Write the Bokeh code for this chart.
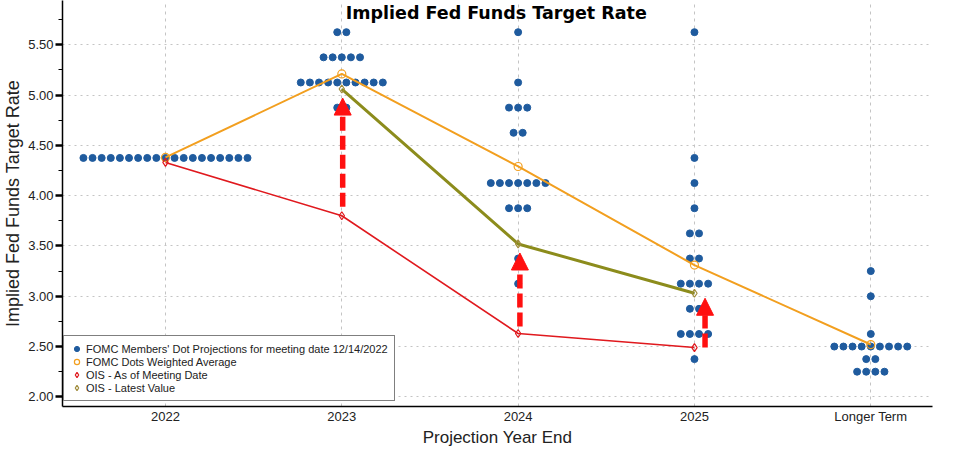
from bokeh.plotting import figure
from bokeh.models import (Range1d, FixedTicker, Legend, LegendItem, Arrow, NormalHead,
                          ColumnDataSource, Label, NumeralTickFormatter)
from bokeh.embed import file_html
from bokeh.resources import INLINE

# ---------------- data ----------------
categories = ["2022", "2023", "2024", "2025", "Longer Term"]
cat_pos = [0, 1, 2, 3, 4]

# FOMC dot plot (12/14/2022): category index, rate, number of participants at that rate
dot_cat = [0,
           1, 1, 1, 1,
           2, 2, 2, 2, 2, 2, 2, 2,
           3, 3, 3, 3, 3, 3, 3, 3, 3, 3,
           4, 4, 4, 4, 4, 4]
dot_rate = [4.375,
            5.625, 5.375, 5.125, 4.875,
            5.625, 5.125, 4.875, 4.625, 4.125, 3.875, 3.375, 3.125,
            5.625, 4.375, 4.125, 3.875, 3.625, 3.375, 3.125, 2.875, 2.625, 2.375,
            3.25, 3.0, 2.625, 2.5, 2.375, 2.25]
dot_count = [19,
             2, 5, 10, 2,
             1, 1, 3, 2, 7, 3, 1, 1,
             1, 1, 1, 1, 2, 2, 4, 2, 4, 1,
             1, 1, 1, 9, 2, 4]

# FOMC dots weighted average
wavg_x = [0, 1, 2, 3, 4]
wavg = [4.38, 5.21, 4.29, 3.31, 2.52]

# OIS - as of meeting date
ois_meet_x = [0, 1, 2, 3]
ois_meet = [4.33, 3.80, 2.63, 2.49]

# OIS - latest value
ois_last_x = [1, 2, 3]
ois_last = [5.06, 3.52, 3.03]

# red arrows (from meeting-date OIS up to latest OIS)
arrow_x = [1.005, 2.01, 3.06]
arrow_from = [3.89, 2.70, 2.49]
arrow_to = [4.97, 3.43, 2.98]

y_ticks = [2.0, 2.5, 3.0, 3.5, 4.0, 4.5, 5.0, 5.5]
y_minor = [1.75, 2.0, 2.25, 2.5, 2.75, 3.0, 3.25, 3.5, 3.75, 4.0, 4.25, 4.5,
           4.75, 5.0, 5.25, 5.5, 5.75]

# ---------------- styles ----------------
BLUE = "#1f5b9e"
ORANGE = "#f29f1f"
RED = "#e0191e"
OLIVE = "#8c8c1c"
ARROW_RED = "#ff1010"
FONT = "Liberation Sans"
DOT_STEP = 0.0517

dx, dy = [], []
for c, r, n in zip(dot_cat, dot_rate, dot_count):
    for i in range(n):
        dx.append(c + (i - (n - 1) / 2) * DOT_STEP)
        dy.append(r)

p = figure(width=939, height=449, output_backend="svg", toolbar_location=None,
           x_range=Range1d(-0.584, 4.35), y_range=Range1d(1.904, 5.94),
           min_border_top=0, min_border_right=7, min_border_left=10, min_border_bottom=0)
p.outline_line_color = None
p.background_fill_color = "white"

# grids
p.xgrid.ticker = FixedTicker(ticks=cat_pos)
p.xgrid.grid_line_color = "#c4c4c4"
p.xgrid.grid_line_dash = "3 4"
p.ygrid.ticker = FixedTicker(ticks=y_ticks)
p.ygrid.grid_line_color = "#c4c4c4"
p.ygrid.grid_line_dash = "2 4"

# axes
p.xaxis.ticker = FixedTicker(ticks=cat_pos)
p.xaxis.major_label_overrides = {i: c for i, c in zip(cat_pos, categories)}
p.xaxis.major_tick_line_color = None
p.xaxis.major_tick_out = 0
p.xaxis.major_tick_in = 0
p.xaxis.minor_tick_line_color = None
p.xaxis.minor_tick_out = 0
p.xaxis.minor_tick_in = 0
p.xaxis.axis_line_color = "black"
p.xaxis.axis_line_width = 1.5
p.xaxis.major_label_text_font = FONT
p.xaxis.major_label_text_font_size = "13px"
p.xaxis.major_label_text_color = "#222222"
p.xaxis.major_label_standoff = 2
p.xaxis.axis_label = "Projection Year End"
p.xaxis.axis_label_text_font = FONT
p.xaxis.axis_label_text_font_size = "17px"
p.xaxis.axis_label_text_font_style = "normal"
p.xaxis.axis_label_text_color = "#222222"
p.xaxis.axis_label_standoff = 1

p.yaxis.ticker = FixedTicker(ticks=y_ticks, minor_ticks=y_minor)
p.yaxis.formatter = NumeralTickFormatter(format="0.00")
p.yaxis.axis_line_color = "black"
p.yaxis.axis_line_width = 1.5
p.yaxis.major_tick_out = 7
p.yaxis.major_tick_in = 0
p.yaxis.major_tick_line_width = 2.5
p.yaxis.minor_tick_out = 4
p.yaxis.minor_tick_in = 0
p.yaxis.minor_tick_line_color = "black"
p.yaxis.major_label_text_font = FONT
p.yaxis.major_label_text_font_size = "13px"
p.yaxis.major_label_text_color = "#222222"
p.yaxis.major_label_standoff = 2
p.yaxis.axis_label = "Implied Fed Funds Target Rate"
p.yaxis.axis_label_text_font = FONT
p.yaxis.axis_label_text_font_size = "18px"
p.yaxis.axis_label_text_font_style = "normal"
p.yaxis.axis_label_text_color = "#222222"
p.yaxis.axis_label_standoff = 2

# dots
dots = p.scatter(dx, dy, size=7, color=BLUE, line_color=BLUE)

# lines
p.line(wavg_x, wavg, line_color=ORANGE, line_width=2)
p.line(ois_meet_x, ois_meet, line_color=RED, line_width=1.6)
p.line(ois_last_x, ois_last, line_color=OLIVE, line_width=3)

r_wavg = p.scatter(wavg_x, wavg, marker="circle", size=8, line_color=ORANGE,
                   fill_color="white", fill_alpha=0.0, line_width=1.2)
r_meet = p.scatter(ois_meet_x, ois_meet, marker="diamond", size=8, line_color=RED,
                   fill_color="white", fill_alpha=0.0, line_width=1.2)
r_last = p.scatter(ois_last_x, ois_last, marker="diamond", size=8, line_color="#a08c3c",
                   fill_color="white", fill_alpha=0.0, line_width=1.2)

# arrows
arrow_src = ColumnDataSource(dict(x0=arrow_x, y0=arrow_from, x1=arrow_x, y1=arrow_to))
p.add_layout(Arrow(source=arrow_src, x_start="x0", y_start="y0", x_end="x1", y_end="y1",
                   line_color=ARROW_RED, line_width=5.5, line_dash="14 5",
                   end=NormalHead(size=17, fill_color=ARROW_RED, line_color=ARROW_RED)))

# legend
legend = Legend(items=[
    LegendItem(label="FOMC Members' Dot Projections for meeting date 12/14/2022", renderers=[dots]),
    LegendItem(label="FOMC Dots Weighted Average", renderers=[r_wavg]),
    LegendItem(label="OIS - As of Meeting Date", renderers=[r_meet]),
    LegendItem(label="OIS - Latest Value", renderers=[r_last]),
], location=(1, 5))
legend.label_text_font = FONT
legend.label_text_font_size = "11px"
legend.label_text_color = "#222222"
legend.label_height = 12
legend.glyph_height = 13
legend.glyph_width = 13
legend.label_standoff = 3
legend.spacing = 0
legend.padding = 6
legend.margin = 0
legend.border_line_color = "black"
legend.border_line_width = 1
legend.background_fill_color = "white"
legend.background_fill_alpha = 1.0
p.add_layout(legend, "center")

# title
p.add_layout(Label(x=1.876, y=5.82, x_units="data", y_units="data",
                   text="Implied Fed Funds Target Rate", text_align="center",
                   text_baseline="middle", text_font="DejaVu Sans",
                   text_font_style="bold", text_font_size="17.5px", text_color="black"))

open("out.html", "w").write(file_html(p, INLINE))
